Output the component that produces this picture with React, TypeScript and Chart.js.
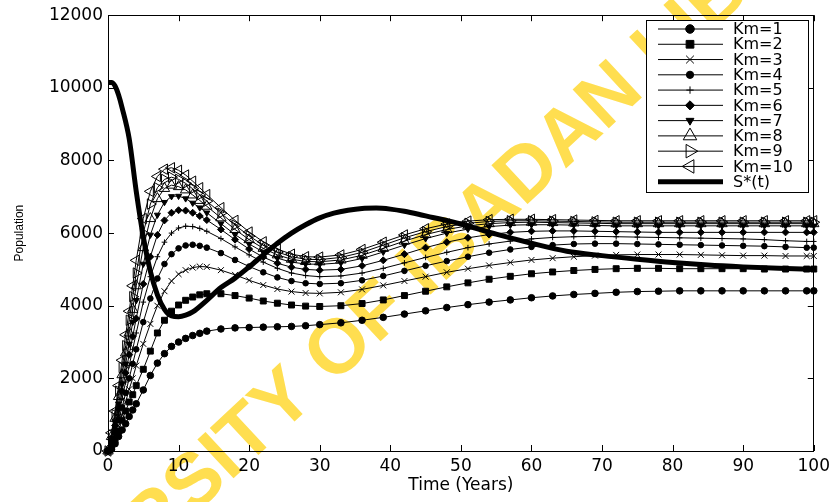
import React, { useEffect, useRef } from "react";
import { Chart, registerables } from "chart.js";
import { drawPoint } from "chart.js/helpers";

Chart.register(...registerables);

// ---------- data ----------
const TIME = [0, 0.5, 1, 1.5, 2, 2.5, 3, 3.5, 4, 5, 6, 7, 8, 9, 10, 11, 12, 13, 14, 16, 18, 20, 22, 24, 26, 28, 30, 33, 36, 39, 42, 45, 48, 51, 54, 57, 60, 63, 66, 69, 72, 75, 78, 81, 84, 87, 90, 93, 96, 99, 100];

const KM1 = [0, 50, 200, 400, 580, 750, 950, 1130, 1300, 1680, 2080, 2420, 2680, 2880, 3000, 3100, 3180, 3240, 3300, 3360, 3390, 3400, 3410, 3420, 3430, 3450, 3480, 3530, 3600, 3680, 3770, 3860, 3950, 4030, 4100, 4160, 4220, 4270, 4310, 4340, 4370, 4390, 4400, 4410, 4410, 4410, 4410, 4410, 4410, 4410, 4410];
const KM2 = [0, 100, 300, 550, 850, 1100, 1350, 1550, 1800, 2250, 2750, 3250, 3600, 3850, 4020, 4150, 4240, 4300, 4330, 4330, 4280, 4210, 4130, 4070, 4020, 3990, 3980, 4000, 4060, 4160, 4280, 4400, 4520, 4630, 4730, 4810, 4880, 4930, 4970, 5000, 5020, 5030, 5030, 5020, 5020, 5020, 5020, 5010, 5010, 5010, 5010];
const KM3 = [0, 150, 400, 700, 1000, 1350, 1700, 2000, 2350, 2950, 3500, 4000, 4400, 4680, 4870, 4980, 5050, 5080, 5070, 4980, 4850, 4700, 4570, 4460, 4390, 4350, 4340, 4370, 4450, 4560, 4680, 4800, 4920, 5020, 5110, 5190, 5260, 5310, 5350, 5380, 5400, 5410, 5410, 5410, 5400, 5390, 5380, 5380, 5370, 5370, 5370];
const KM4 = [0, 200, 500, 850, 1200, 1600, 2000, 2400, 2800, 3550, 4200, 4750, 5150, 5420, 5580, 5660, 5680, 5650, 5600, 5450, 5260, 5080, 4920, 4780, 4680, 4620, 4600, 4620, 4700, 4820, 4960, 5100, 5230, 5350, 5460, 5550, 5620, 5670, 5700, 5710, 5710, 5700, 5690, 5680, 5670, 5660, 5650, 5640, 5620, 5600, 5600];
const KM5 = [0, 250, 600, 1000, 1450, 1900, 2350, 2800, 3250, 4100, 4800, 5350, 5750, 6000, 6140, 6190, 6180, 6130, 6050, 5850, 5620, 5400, 5200, 5030, 4900, 4830, 4800, 4820, 4900, 5030, 5180, 5330, 5470, 5600, 5700, 5780, 5840, 5880, 5900, 5910, 5900, 5890, 5880, 5870, 5860, 5850, 5840, 5820, 5790, 5770, 5770];
const KM6 = [0, 300, 700, 1150, 1650, 2150, 2650, 3150, 3650, 4600, 5350, 5950, 6350, 6560, 6630, 6620, 6560, 6470, 6360, 6100, 5820, 5560, 5340, 5170, 5060, 5000, 4980, 5000, 5100, 5250, 5420, 5600, 5750, 5870, 5960, 6020, 6050, 6060, 6060, 6050, 6040, 6030, 6020, 6020, 6020, 6020, 6020, 6020, 6020, 6020, 6020];
const KM7 = [0, 350, 800, 1300, 1850, 2400, 2950, 3550, 4150, 5150, 5950, 6500, 6850, 7010, 7020, 6950, 6830, 6700, 6560, 6260, 5960, 5700, 5480, 5310, 5200, 5150, 5140, 5180, 5300, 5480, 5670, 5850, 6000, 6110, 6180, 6220, 6230, 6230, 6220, 6210, 6200, 6200, 6200, 6200, 6200, 6200, 6200, 6200, 6200, 6200, 6200];
const KM8 = [0, 400, 900, 1500, 2100, 2700, 3250, 3900, 4550, 5600, 6400, 6950, 7230, 7320, 7280, 7190, 7050, 6900, 6740, 6420, 6100, 5820, 5580, 5400, 5280, 5220, 5210, 5260, 5390, 5580, 5780, 5960, 6100, 6200, 6260, 6290, 6300, 6290, 6280, 6270, 6260, 6260, 6260, 6260, 6260, 6260, 6260, 6260, 6260, 6260, 6260];
const KM9 = [0, 450, 1000, 1650, 2300, 2900, 3600, 4250, 4900, 6000, 6800, 7250, 7480, 7540, 7480, 7370, 7220, 7050, 6880, 6550, 6220, 5920, 5670, 5480, 5350, 5280, 5270, 5330, 5470, 5670, 5870, 6040, 6180, 6270, 6320, 6340, 6340, 6330, 6320, 6310, 6300, 6300, 6300, 6300, 6300, 6300, 6300, 6300, 6300, 6300, 6300];
const KM10 = [0, 500, 1100, 1800, 2500, 3200, 3850, 4550, 5250, 6400, 7150, 7560, 7760, 7800, 7730, 7600, 7430, 7250, 7060, 6700, 6350, 6030, 5760, 5560, 5420, 5350, 5340, 5400, 5550, 5750, 5950, 6120, 6250, 6330, 6370, 6380, 6380, 6370, 6360, 6350, 6340, 6340, 6340, 6340, 6340, 6340, 6340, 6340, 6340, 6340, 6340];

const S_TIME = [0, 0.5, 1, 1.5, 2, 3, 4, 5, 6, 7, 8, 9, 10, 11, 12, 14, 16, 18, 20, 22, 24, 26, 28, 30, 32, 34, 36, 38, 40, 42, 44, 46, 48, 50, 52, 55, 60, 65, 70, 75, 80, 85, 90, 95, 100];
const S_STAR = [10150, 10150, 10050, 9800, 9450, 8600, 7150, 5900, 4950, 4300, 3900, 3720, 3700, 3740, 3830, 4150, 4500, 4760, 5070, 5400, 5720, 6000, 6230, 6420, 6550, 6630, 6680, 6690, 6660, 6600, 6520, 6430, 6350, 6250, 6140, 5970, 5720, 5500, 5380, 5280, 5190, 5120, 5070, 5030, 5000];

const KM_SERIES = [KM1, KM2, KM3, KM4, KM5, KM6, KM7, KM8, KM9, KM10];
const KM_LABELS = ["Km=1", "Km=2", "Km=3", "Km=4", "Km=5", "Km=6", "Km=7", "Km=8", "Km=9", "Km=10"];
const S_LABEL = "S*(t)";

const X_TITLE = "Time (Years)";
const Y_TITLE = "Population";
const WATERMARK = "UNIVERSITY OF IBADAN LIBRARY";

// ---------- styles ----------
const MARKERS = [
  { style: "circle", r: 3.3, fill: true, rot: 0 },
  { style: "rect", r: 4.2, fill: true, rot: 0 },
  { style: "crossRot", r: 4.2, fill: false, rot: 0 },
  { style: "circle", r: 2.8, fill: true, rot: 0 },
  { style: "cross", r: 2.8, fill: false, rot: 0 },
  { style: "rectRot", r: 3.5, fill: true, rot: 0 },
  { style: "triangle", r: 3.5, fill: true, rot: 180 },
  { style: "triangle", r: 6, fill: false, rot: 0 },
  { style: "triangle", r: 6, fill: false, rot: 90 },
  { style: "triangle", r: 6, fill: false, rot: 270 },
];

const FONT = "'DejaVu Sans', sans-serif";

const watermarkPlugin = {
  id: "watermark",
  beforeDraw(chart: any) {
    const ctx = chart.ctx;
    ctx.save();
    ctx.translate(430, 266);
    ctx.rotate((-43 * Math.PI) / 180);
    ctx.font = "bold 77px 'Liberation Sans', Arial, sans-serif";
    ctx.fillStyle = "rgb(255,222,80)";
    ctx.textAlign = "center";
    ctx.textBaseline = "middle";
    ctx.fillText(WATERMARK, 0, 0);
    ctx.restore();
  },
};

// inward tick marks on all four sides, at the positions of the scales' own ticks
const innerTicksPlugin = {
  id: "innerTicks",
  afterDatasetsDraw(chart: any) {
    const ctx = chart.ctx;
    const { left, right, top, bottom } = chart.chartArea;
    const len = 6;
    ctx.save();
    ctx.strokeStyle = "#000";
    ctx.lineWidth = 1;
    ctx.beginPath();
    const xs = chart.scales.x;
    xs.ticks.forEach((t: any) => {
      const px = Math.round(xs.getPixelForValue(t.value)) + 0.5;
      ctx.moveTo(px, bottom);
      ctx.lineTo(px, bottom - len);
      ctx.moveTo(px, top);
      ctx.lineTo(px, top + len);
    });
    const ys = chart.scales.y;
    ys.ticks.forEach((t: any) => {
      const py = Math.round(ys.getPixelForValue(t.value)) + 0.5;
      ctx.moveTo(left, py);
      ctx.lineTo(left + len, py);
      ctx.moveTo(right, py);
      ctx.lineTo(right - len, py);
    });
    ctx.stroke();
    ctx.restore();
  },
};

const legendPlugin = {
  id: "boxLegend",
  afterDraw(chart: any) {
    const ctx = chart.ctx;
    const L = 646, T = 20, R = 808, B = 192;
    ctx.save();
    ctx.fillStyle = "#fff";
    ctx.fillRect(L, T, R - L, B - T);
    ctx.strokeStyle = "#000";
    ctx.lineWidth = 1;
    ctx.strokeRect(L + 0.5, T + 0.5, R - L, B - T);
    chart.data.datasets.forEach((ds: any, i: number) => {
      const y = 29 + i * 15.27;
      ctx.strokeStyle = "#000";
      ctx.lineWidth = ds.borderWidth;
      ctx.beginPath();
      ctx.moveTo(658, y);
      ctx.lineTo(723, y);
      ctx.stroke();
      if (ds.pointRadius > 0) {
        ctx.lineWidth = 1;
        ctx.fillStyle = ds.pointBackgroundColor;
        drawPoint(ctx, { pointStyle: ds.pointStyle, rotation: ds.pointRotation, radius: ds.pointRadius * 1.3, borderWidth: 1 }, 690, y);
      }
      ctx.fillStyle = "#000";
      ctx.font = "16px " + FONT;
      ctx.textBaseline = "middle";
      ctx.textAlign = "left";
      ctx.fillText(ds.label, 733, y + 1);
    });
    ctx.restore();
  },
};

export default function App() {
  const ref = useRef<HTMLCanvasElement>(null);

  useEffect(() => {
    if (!ref.current) return;
    const kmSets = KM_SERIES.map((vals, i) => {
      const m = MARKERS[i];
      return {
        label: KM_LABELS[i],
        data: TIME.map((t, j) => ({ x: t, y: vals[j] })),
        borderColor: "#000",
        borderWidth: 1,
        pointStyle: m.style,
        pointRadius: m.r,
        pointRotation: m.rot,
        pointBackgroundColor: m.fill ? "#000" : "rgba(0,0,0,0)",
        pointBorderColor: "#000",
        pointBorderWidth: 1,
        tension: 0,
        clip: 10,
        order: 10 - i,
      };
    });
    const sSet = {
      label: S_LABEL,
      data: S_TIME.map((t, j) => ({ x: t, y: S_STAR[j] })),
      borderColor: "#000",
      borderWidth: 5,
      pointRadius: 0,
      cubicInterpolationMode: "monotone",
      clip: 10,
      order: -1,
    };

    const tickFont = { family: FONT, size: 17 };
    const chart = new Chart(ref.current, {
      type: "line",
      data: { datasets: [...kmSets, sSet] as any },
      options: {
        animation: false,
        responsive: false,
        devicePixelRatio: 1,
        layout: { padding: { left: 0, right: 20, top: 15, bottom: 0 } },
        plugins: { legend: { display: false }, tooltip: { enabled: false } },
        scales: {
          x: {
            type: "linear",
            position: "bottom",
            min: 0,
            max: 100,
            ticks: { stepSize: 10, autoSkip: false, maxRotation: 0, color: "#000", font: tickFont, padding: 5, callback: (v: any) => String(v) },
            grid: { drawOnChartArea: false, drawTicks: false, color: "#000" },
            border: { color: "#000", width: 1 },
            title: { display: true, text: X_TITLE, color: "#000", font: { family: FONT, size: 17 }, padding: { top: 0, bottom: 6 } },
            afterFit: (s: any) => { s.height = 51; },
          },
          y: {
            type: "linear",
            position: "left",
            min: 0,
            max: 12000,
            ticks: { stepSize: 2000, color: "#000", font: tickFont, padding: 5, callback: (v: any) => String(v) },
            grid: { drawOnChartArea: false, drawTicks: false, color: "#000" },
            border: { color: "#000", width: 1 },
            title: { display: true, text: Y_TITLE, color: "#000", font: { family: "'Liberation Sans', Arial, sans-serif", size: 12 }, padding: { top: 12, bottom: 0 } },
            afterFit: (s: any) => { s.width = 108; },
          },
          x2: {
            type: "linear",
            axis: "x",
            position: "top",
            min: 0,
            max: 100,
            ticks: { display: false, stepSize: 10 },
            grid: { drawOnChartArea: false, drawTicks: false, color: "#000" },
            border: { color: "#000", width: 1 },
            afterFit: (s: any) => { s.height = 0; },
          },
          y2: {
            type: "linear",
            axis: "y",
            position: "right",
            min: 0,
            max: 12000,
            ticks: { display: false, stepSize: 2000 },
            grid: { drawOnChartArea: false, drawTicks: false, color: "#000" },
            border: { color: "#000", width: 1 },
            afterFit: (s: any) => { s.width = 0; },
          },
        } as any,
      },
      plugins: [watermarkPlugin, innerTicksPlugin, legendPlugin],
    } as any);
    return () => chart.destroy();
  }, []);

  return (
    <div style={{ position: "fixed", left: 0, top: 0, width: 835, height: 502, background: "#fff" }}>
      <canvas ref={ref} width={835} height={502} style={{ width: 835, height: 502, display: "block" }} />
    </div>
  );
}
